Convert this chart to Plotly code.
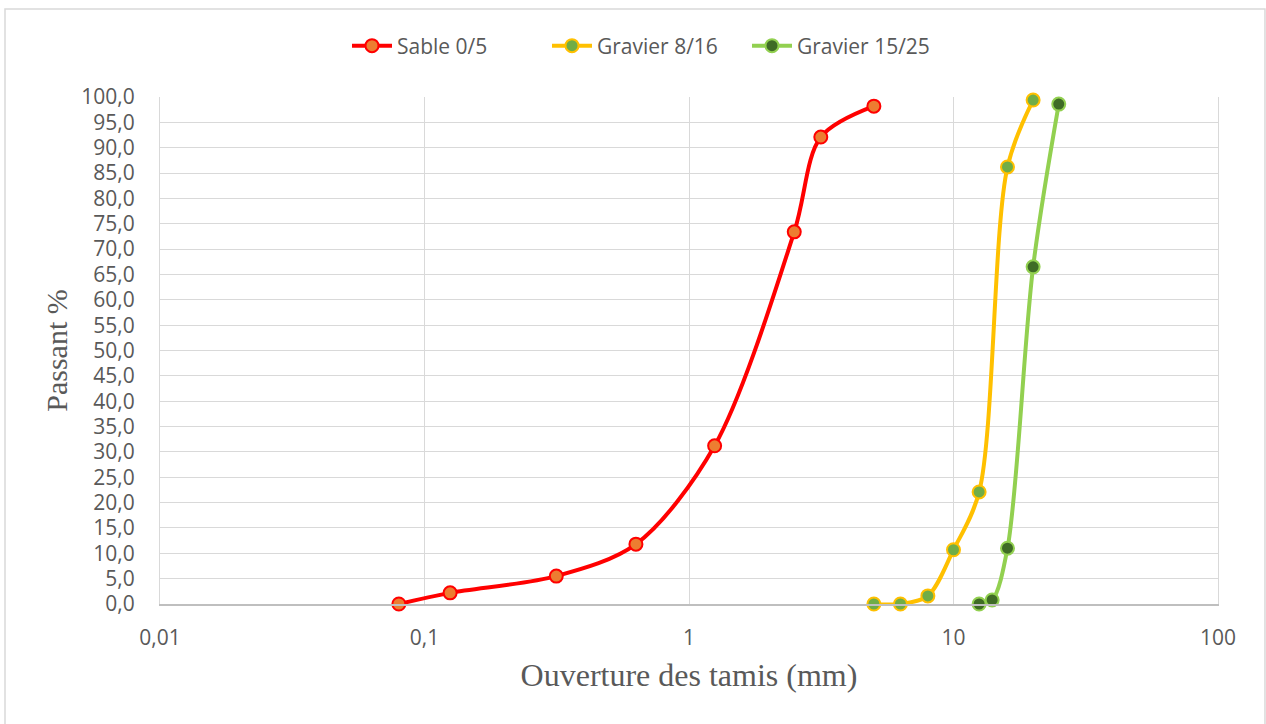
import plotly.graph_objects as go

# Sieve openings (mm) and cumulative passing (%) for each aggregate
sable_x = [0.08, 0.125, 0.315, 0.63, 1.25, 2.5, 3.15, 5]
sable_y = [0.0, 2.2, 5.5, 11.8, 31.2, 73.4, 92.1, 98.2]

g816_x = [5, 6.3, 8, 10, 12.5, 16, 20]
g816_y = [0.0, 0.0, 1.6, 10.7, 22.1, 86.2, 99.4]

g1525_x = [12.5, 14, 16, 20, 25]
g1525_y = [0.0, 0.8, 11.0, 66.5, 98.6]

x_tick_vals = [0.01, 0.1, 1, 10, 100]
x_tick_text = ["0,01", "0,1", "1", "10", "100"]

series = [
    ("Sable 0/5", sable_x, sable_y, "#FF0000", "#ED7D31", "#FF0000"),
    ("Gravier 8/16", g816_x, g816_y, "#FFC000", "#70AD47", "#FFC000"),
    ("Gravier 15/25", g1525_x, g1525_y, "#92D050", "#3F6B26", "#92D050"),
]

TEXT = "#595959"
GRID = "#D9D9D9"

fig = go.Figure()
for name, xs, ys, line_col, fill_col, edge_col in series:
    fig.add_trace(go.Scatter(
        x=xs, y=ys, name=name, mode="lines+markers",
        line=dict(color=line_col, width=4, shape="spline", smoothing=0.9),
        marker=dict(size=13, color=fill_col, line=dict(color=edge_col, width=2)),
        cliponaxis=False,
    ))

fig.update_layout(
    width=1266, height=724,
    margin=dict(l=160, r=48, t=97, b=120),
    paper_bgcolor="white", plot_bgcolor="white",
    separators=", ",
    font=dict(family="Open Sans", color=TEXT, size=21),
    showlegend=True,
    legend=dict(orientation="h", x=0.4603, xanchor="center", y=1.1006, yanchor="middle",
                font=dict(family="Open Sans", size=21, color=TEXT),
                entrywidth=145, entrywidthmode="pixels",
                itemwidth=40, bgcolor="rgba(0,0,0,0)"),
    shapes=[dict(type="rect", xref="paper", yref="paper",
                 x0=-0.1465, x1=1.0444, y0=-0.25, y1=1.1736,
                 line=dict(color=GRID, width=1.5), fillcolor="rgba(0,0,0,0)",
                 layer="below")],
)

fig.update_xaxes(
    type="log", range=[-2, 2],
    tickvals=x_tick_vals, ticktext=x_tick_text,
    showgrid=True, gridcolor=GRID, gridwidth=1,
    showline=True, linecolor="#BFBFBF", linewidth=1.5, mirror=False,
    ticks="", ticklabelstandoff=14,
    tickfont=dict(family="Open Sans", size=21, color=TEXT),
    zeroline=False,
    title=dict(text="Ouverture des tamis (mm)", standoff=14,
               font=dict(family="Liberation Serif", size=32, color=TEXT)),
)
fig.update_yaxes(
    range=[0, 100], dtick=5, tickformat=".1f",
    showgrid=True, gridcolor=GRID, gridwidth=1,
    showline=True, linecolor=GRID, linewidth=1, mirror=True,
    ticks="", ticklabelstandoff=20,
    tickfont=dict(family="Open Sans", size=21, color=TEXT),
    zeroline=False,
    title=dict(text="Passant %", standoff=4,
               font=dict(family="Liberation Serif", size=30, color=TEXT)),
)

fig.write_html("out.html")
